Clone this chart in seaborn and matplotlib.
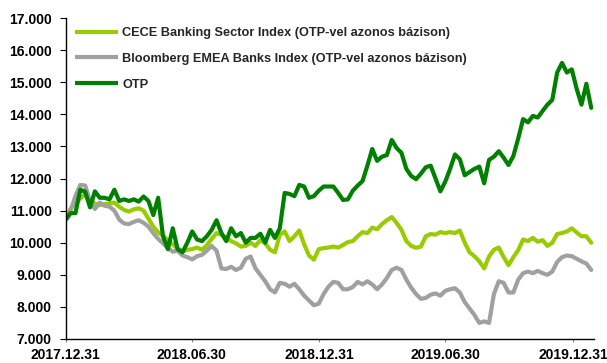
import matplotlib
matplotlib.use("Agg")
import matplotlib.pyplot as plt
import matplotlib.dates as mdates
from matplotlib.ticker import FuncFormatter
import numpy as np
import pandas as pd
import seaborn as sns

# ---------------- data (weekly readings, index values) ----------------
start_date = "2017-12-31"
n_weeks = 109

series_names = [
    "CECE Banking Sector Index (OTP-vel azonos bázison)",
    "Bloomberg EMEA Banks Index (OTP-vel azonos bázison)",
    "OTP",
]

otp = [10710, 10920, 10920, 11650, 11590, 11100, 11600, 11400, 11400, 11350,
       11650, 11300, 11350, 11300, 11350, 11280, 11440, 11300, 10860, 11400,
       10200, 9800, 10450, 9800, 9700, 10000, 10350, 10100, 10050, 10200,
       10400, 10700, 10300, 10050, 10450, 10200, 10300, 10000, 10150, 10150,
       10280, 10000, 10400, 10150, 10450, 11550, 11520, 11450, 11800, 11750,
       11400, 11450, 11620, 11750, 11750, 11750, 11550, 11330, 11350, 11620,
       11780, 11920, 12400, 12920, 12550, 12680, 12730, 13200, 12950, 12800,
       12300, 12080, 11980, 12150, 12350, 12400, 12000, 11600, 11900, 12300,
       12750, 12600, 12100, 12200, 12300, 12370, 11850, 12580, 12680, 12850,
       12650, 12420, 12700, 13250, 13850, 13750, 13950, 13900, 14100, 14300,
       14450, 15300, 15600, 15300, 15400, 14800, 14300, 14950, 14200]

cece = [10750, 11050, 11250, 11380, 11500, 11330, 11220, 11170, 11200, 11220,
        11250, 11120, 11020, 10970, 11040, 11070, 11000, 10750, 10500, 10320,
        10220, 10070, 9950, 9820, 9730, 9780, 9800, 9850, 9780, 9920,
        10120, 10300, 10250, 10150, 10050, 9980, 9880, 9900, 10000, 9900,
        10080, 9980, 9780, 9700, 10250, 10350, 10050, 10200, 10380, 9950,
        9600, 9470, 9800, 9830, 9850, 9880, 9850, 9930, 10020, 10050,
        10200, 10330, 10300, 10470, 10420, 10580, 10700, 10800, 10620, 10400,
        10050, 9900, 9840, 9880, 10200, 10270, 10250, 10330, 10300, 10330,
        10300, 10380, 10000, 9700, 9580, 9420, 9200, 9570, 9780, 9850,
        9550, 9300, 9550, 9770, 10100, 10050, 10150, 10030, 10080, 9900,
        10000, 10270, 10300, 10350, 10450, 10320, 10200, 10200, 10000]

emea = [10750, 11000, 11450, 11800, 11780, 11300, 11050, 11250, 11150, 11120,
        11000, 10720, 10600, 10580, 10650, 10700, 10620, 10500, 10300, 10120,
        9980, 9830, 9720, 9750, 9600, 9550, 9480, 9580, 9620, 9750,
        9900, 9750, 9200, 9180, 9250, 9150, 9220, 9500, 9570, 9200,
        9000, 8800, 8550, 8450, 8750, 8720, 8630, 8720, 8550, 8350,
        8200, 8050, 8100, 8400, 8630, 8780, 8750, 8550, 8550, 8620,
        8780, 8700, 8800, 8700, 8550, 8700, 8900, 9150, 9220, 9150,
        8850, 8600, 8400, 8250, 8280, 8380, 8420, 8350, 8500, 8550,
        8580, 8450, 8150, 7950, 7750, 7500, 7550, 7500, 8400, 8800,
        8750, 8450, 8450, 8850, 9050, 9100, 9050, 9120, 9050, 9000,
        9100, 9400, 9550, 9600, 9580, 9500, 9420, 9350, 9150]

tick_dates = ["2017-12-31", "2018-06-30", "2018-12-31", "2019-06-30", "2019-12-31"]
y_ticks = list(range(7000, 17001, 1000))

colors = ["#99CC00", "#A0A0A0", "#008000"]

# ---------------- build table ----------------
dates = pd.date_range(start_date, periods=n_weeks, freq="7D")
frames = []
for name, vals in zip(series_names, [cece, emea, otp]):
    frames.append(pd.DataFrame({"date": dates, "value": vals, "series": name}))
df = pd.concat(frames, ignore_index=True)

# ---------------- plot ----------------
sns.set_theme(style="white")
plt.rcParams["font.family"] = ["Liberation Sans", "DejaVu Sans"]
plt.rcParams["font.weight"] = "bold"

W, H = 607, 363
fig = plt.figure(figsize=(W / 100, H / 100), dpi=100)
x0, x1, y0, y1 = 65.7, 594, 18, 339
ax = fig.add_axes([x0 / W, 1 - y1 / H, (x1 - x0) / W, (y1 - y0) / H])

sns.lineplot(data=df, x="date", y="value", hue="series", hue_order=series_names,
             palette=dict(zip(series_names, colors)), linewidth=3.0, ax=ax,
             legend=True)

ax.set_xlim(pd.Timestamp("2017-12-31"), pd.Timestamp("2020-01-30"))
ax.set_ylim(7000, 17000)
ax.set_xticks(pd.to_datetime(tick_dates))
ax.xaxis.set_major_formatter(mdates.DateFormatter("%Y.%m.%d"))
ax.set_yticks(y_ticks)
ax.yaxis.set_major_formatter(FuncFormatter(lambda v, p: f"{v:,.0f}".replace(",", ".")))
ax.set_xlabel("")
ax.set_ylabel("")

for s in ["top", "right"]:
    ax.spines[s].set_visible(False)
for s in ["left", "bottom"]:
    ax.spines[s].set_color("black")
    ax.spines[s].set_linewidth(1.0)

ax.tick_params(axis="y", direction="out", length=4.5, width=0.8, color="black",
               pad=5.5, labelsize=10, left=True)
ax.tick_params(axis="x", direction="out", length=2.5, width=0.8, color="#888888",
               pad=4, labelsize=10, bottom=True)
for lab in ax.get_xticklabels() + ax.get_yticklabels():
    lab.set_fontweight("bold")
    lab.set_color("black")

leg = ax.legend(loc="upper left", bbox_to_anchor=(75 / W, 1 - 27 / H),
                bbox_transform=fig.transFigure, frameon=False,
                prop={"family": "Liberation Sans", "weight": "bold", "size": 9.2},
                handlelength=3.4, handletextpad=0.3, labelspacing=1.08,
                borderpad=0, borderaxespad=0)
for line in leg.get_lines():
    line.set_linewidth(3.0)
    line.set_solid_capstyle("butt")

fig.savefig("out.png", dpi=100)
